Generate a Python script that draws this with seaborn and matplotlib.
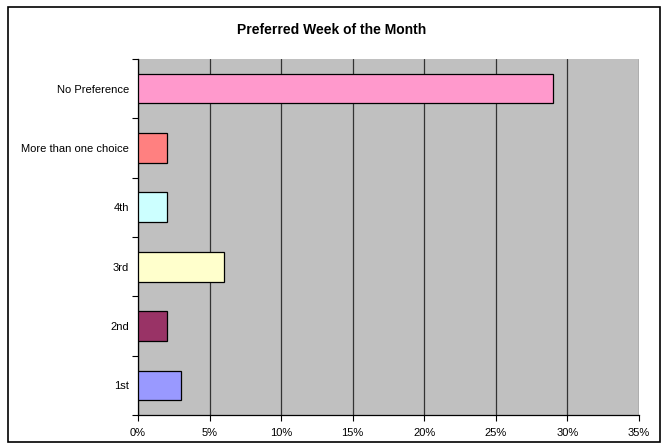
import numpy as np
import pandas as pd
import matplotlib
matplotlib.use("Agg")
import matplotlib.pyplot as plt
from matplotlib.patches import Rectangle
from matplotlib.ticker import FuncFormatter
import seaborn as sns

# data, top to bottom
categories = ["No Preference", "More than one choice", "4th", "3rd", "2nd", "1st"]
shares = [29, 2, 2, 6, 2, 3]  # percent
bar_colors = ["#FF99CC", "#FF8080", "#CCFFFF", "#FFFFCC", "#993366", "#9999FF"]
x_ticks = [0, 5, 10, 15, 20, 25, 30, 35]

sns.set_style("white")
plt.rcParams["font.family"] = ["Liberation Sans", "DejaVu Sans"]
plt.rcParams["text.color"] = "black"
plt.rcParams["xtick.color"] = "black"
plt.rcParams["ytick.color"] = "black"

df = pd.DataFrame({"week": categories, "share": shares})

fig = plt.figure(figsize=(6.63, 4.45), dpi=100)
ax = fig.add_axes([138 / 663, 1 - 415 / 445, 501 / 663, 356 / 445])
ax.set_facecolor("#C0C0C0")

sns.barplot(data=df, x="share", y="week", hue="week", palette=bar_colors,
            order=categories, width=0.5, saturation=1, edgecolor="black",
            linewidth=0.9, legend=False, ax=ax, zorder=3)

ax.set_xlim(0, 35)
ax.set_ylim(len(categories) - 0.5, -0.5)
ax.set_xticks(x_ticks)
ax.xaxis.set_major_formatter(FuncFormatter(lambda v, p: f"{v:.0f}%"))
ax.grid(axis="x", color="#333333", linewidth=0.9, zorder=1)
ax.set_axisbelow(True)

# category labels at centres, tick marks at the boundaries
ax.set_yticks(np.arange(len(categories) + 1) - 0.5)
ax.set_yticklabels([])
ax.set_yticks(np.arange(len(categories)), minor=True)
ax.set_yticklabels(categories, minor=True)
ax.tick_params(axis="y", which="major", left=True, length=4, width=0.8, direction="out")
ax.tick_params(axis="y", which="minor", left=True, length=0, pad=6.5, labelsize=8)
ax.tick_params(axis="x", bottom=True, length=4, width=0.8, direction="out", labelsize=8, pad=5)

ax.set_xlabel("")
ax.set_ylabel("")
for side in ["top", "right"]:
    ax.spines[side].set_visible(False)
for side in ["left", "bottom"]:
    ax.spines[side].set_color("black")
    ax.spines[side].set_linewidth(0.9)

fig.text(0.5, 1 - 30 / 445, "Preferred Week of the Month",
         ha="center", va="center", fontsize=10, fontweight="bold")

# chart border
fig.patches.append(Rectangle((8 / 663, 1 - 442 / 445), 652 / 663, 435 / 445,
                             transform=fig.transFigure, fill=False,
                             edgecolor="black", linewidth=1.2))

fig.savefig("out.png", dpi=100)
